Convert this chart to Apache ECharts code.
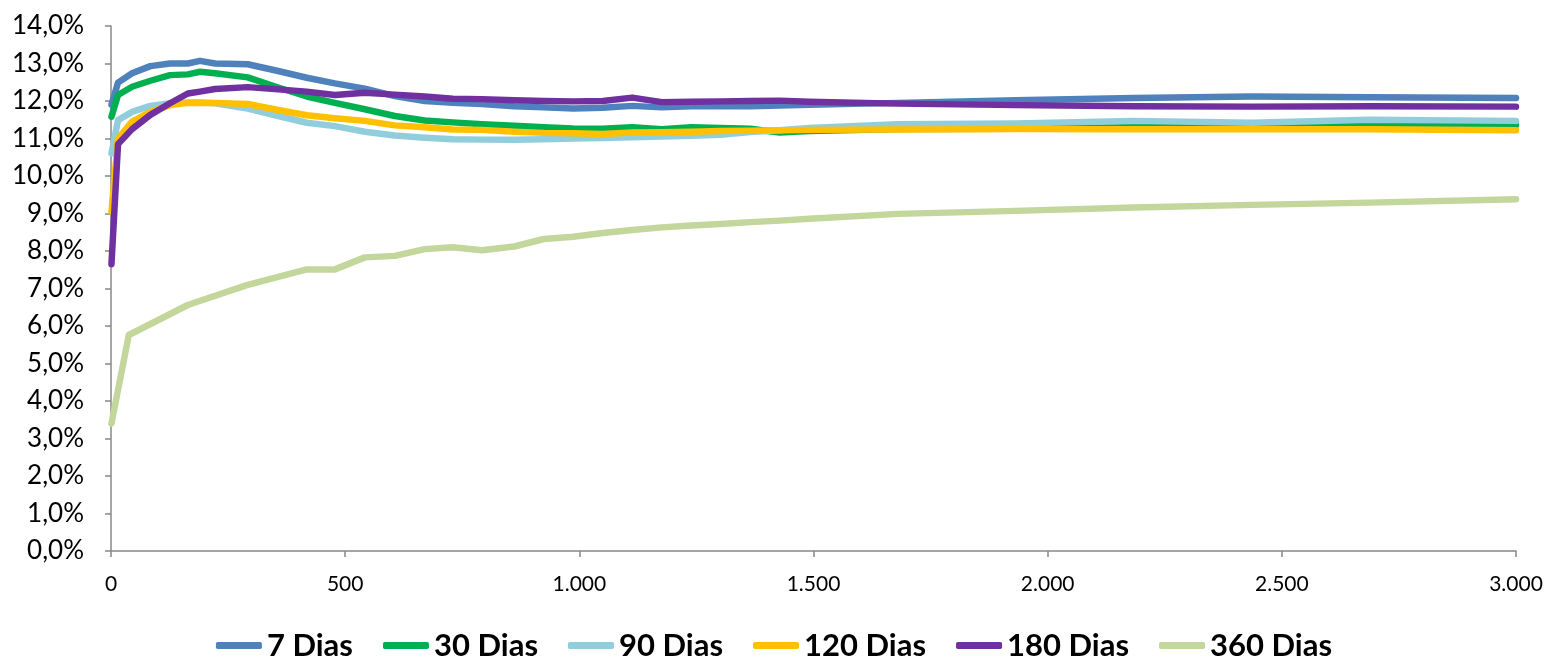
<!DOCTYPE html>
<html>
<head>
<meta charset="utf-8">
<script src="https://cdn.jsdelivr.net/npm/echarts@6/dist/echarts.min.js"></script>
<style>
html,body{margin:0;padding:0;background:#fff;}
#chart{width:1548px;height:657px;}
</style>
</head>
<body>
<div id="chart"></div>
<script>
// Shared x positions (days) for the first five series
var xDays = [1, 15, 45, 84, 126, 164, 190, 222, 292, 357, 418, 478, 542, 606, 670, 730, 792, 861, 924, 987, 1050, 1113, 1176, 1239, 1302, 1365, 1428, 1491, 1680, 1932, 2184, 2436, 2688, 3000];
var dias7   = [11.9, 12.49, 12.74, 12.93, 13.0, 13.0, 13.07, 13.0, 12.98, 12.8, 12.62, 12.47, 12.33, 12.13, 12.0, 11.95, 11.92, 11.86, 11.83, 11.8, 11.82, 11.87, 11.83, 11.86, 11.86, 11.86, 11.88, 11.9, 11.95, 12.02, 12.08, 12.12, 12.1, 12.08];
var dias30  = [11.58, 12.16, 12.38, 12.54, 12.69, 12.71, 12.78, 12.74, 12.63, 12.36, 12.12, 11.95, 11.78, 11.6, 11.48, 11.43, 11.38, 11.34, 11.3, 11.27, 11.26, 11.3, 11.25, 11.3, 11.28, 11.26, 11.16, 11.2, 11.25, 11.26, 11.3, 11.33, 11.37, 11.36];
var dias90  = [10.6, 11.49, 11.71, 11.87, 11.94, 11.96, 11.96, 11.94, 11.8, 11.6, 11.42, 11.33, 11.18, 11.08, 11.02, 10.98, 10.97, 10.97, 10.98, 11.0, 11.01, 11.03, 11.05, 11.07, 11.1, 11.17, 11.22, 11.28, 11.38, 11.4, 11.47, 11.42, 11.5, 11.47];
var dias120 = [9.05, 11.0, 11.45, 11.71, 11.89, 11.95, 11.95, 11.95, 11.92, 11.76, 11.62, 11.54, 11.47, 11.35, 11.3, 11.24, 11.23, 11.18, 11.15, 11.14, 11.12, 11.16, 11.17, 11.18, 11.2, 11.21, 11.22, 11.23, 11.24, 11.25, 11.25, 11.25, 11.25, 11.22];
var dias180 = [7.65, 10.85, 11.25, 11.63, 11.94, 12.2, 12.25, 12.32, 12.37, 12.31, 12.25, 12.16, 12.22, 12.17, 12.12, 12.06, 12.05, 12.02, 12.0, 11.99, 12.0, 12.09, 11.97, 11.98, 11.99, 12.0, 12.01, 11.98, 11.93, 11.89, 11.86, 11.85, 11.86, 11.85];
// 360 Dias has its own x positions
var xDays360 = [1, 38, 164, 290, 418, 478, 542, 606, 670, 730, 792, 861, 924, 987, 1050, 1113, 1176, 1239, 1302, 1365, 1428, 1491, 1680, 1932, 2184, 2436, 2688, 3000];
var dias360 = [3.4, 5.76, 6.56, 7.09, 7.51, 7.51, 7.83, 7.87, 8.05, 8.1, 8.02, 8.12, 8.32, 8.38, 8.48, 8.56, 8.63, 8.68, 8.72, 8.77, 8.81, 8.86, 8.99, 9.07, 9.16, 9.23, 9.29, 9.38];

var seriesNames = ['7 Dias', '30 Dias', '90 Dias', '120 Dias', '180 Dias', '360 Dias'];
var seriesColors = ['#4F81BD', '#00B050', '#92CDDC', '#FFC000', '#7030A0', '#C3D69B'];

function pairs(xs, ys) { return xs.map(function (x, i) { return [x, ys[i]]; }); }
var allData = [
  pairs(xDays, dias7), pairs(xDays, dias30), pairs(xDays, dias90),
  pairs(xDays, dias120), pairs(xDays, dias180), pairs(xDays360, dias360)
];

var FONT = 'Lato, "Open Sans", sans-serif';
var chart = echarts.init(document.getElementById('chart'), null, {renderer: 'canvas'});
chart.setOption({
  animation: false,
  backgroundColor: '#ffffff',
  color: seriesColors,
  grid: {left: 111, right: 32, top: 26, bottom: 106, containLabel: false},
  xAxis: {
    type: 'value', min: 0, max: 3000, interval: 500,
    axisLine: {show: true, onZero: false, lineStyle: {color: '#888888', width: 1.5}},
    axisTick: {show: true, length: 6, lineStyle: {color: '#888888', width: 1.5}},
    splitLine: {show: false},
    axisLabel: {
      color: '#000', fontFamily: FONT, fontSize: 21, margin: 23,
      formatter: function (v) { return v.toString().replace(/\B(?=(\d{3})+(?!\d))/g, '.'); }
    }
  },
  yAxis: {
    type: 'value', min: 0, max: 14, interval: 1,
    axisLine: {show: true, lineStyle: {color: '#888888', width: 1.5}},
    axisTick: {show: true, length: 6, lineStyle: {color: '#888888', width: 1.5}},
    splitLine: {show: false},
    axisLabel: {
      color: '#000', fontFamily: FONT, fontSize: 26, margin: 27,
      formatter: function (v) { return v.toFixed(1).replace('.', ',') + '%'; }
    }
  },
  legend: {
    top: 625, left: 'center',
    icon: 'roundRect', itemWidth: 46, itemHeight: 7, itemGap: 30,
    textStyle: {color: '#000', fontFamily: FONT, fontWeight: 'bold', fontSize: 31, padding: [0, 0, 0, 0]},
    data: seriesNames
  },
  series: seriesNames.map(function (n, i) {
    return {
      name: n, type: 'line', data: allData[i], showSymbol: false, symbol: 'none',
      lineStyle: {width: 6.5, color: seriesColors[i], join: 'round', cap: 'round'},
      itemStyle: {color: seriesColors[i]}
    };
  })
});
</script>
</body>
</html>
